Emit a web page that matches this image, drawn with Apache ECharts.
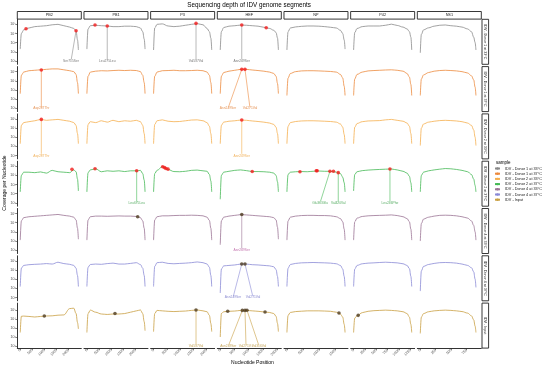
<!DOCTYPE html>
<html><head><meta charset="utf-8">
<script src="https://cdn.jsdelivr.net/npm/echarts@6/dist/echarts.min.js"></script>
<style>html,body{margin:0;padding:0;background:#fff}#c{width:550px;height:368px}</style>
</head><body><div id="c"></div>
<script>
// ---------------- DATA ----------------
const segments = ['PB2', 'PB1', 'P3', 'HEF', 'NP', 'P42', 'NS1'];
const segAxisLength = [2400, 2400, 2200, 2050, 1800, 1280, 940];
const xTicksPB2 = [0, 500, 1000, 1500, 2000];
const xTicksPB1 = [0, 500, 1000, 1500, 2000];
const xTicksP3 = [0, 500, 1000, 1500, 2000];
const xTicksHEF = [0, 500, 1000, 1500, 2000];
const xTicksNP = [0, 500, 1000, 1500];
const xTicksP42 = [0, 250, 500, 750, 1000, 1250];
const xTicksNS1 = [0, 250, 500, 750];
const yTicksLog = [1, 2, 3, 4, 5];

const samples = ['IDV - Donor 1 at 33°C', 'IDV - Donor 1 at 37°C', 'IDV - Donor 2 at 33°C',
  'IDV - Donor 2 at 37°C', 'IDV - Donor 4 at 33°C', 'IDV - Donor 4 at 37°C', 'IDV - Input'];

// nucleotide positions sampled along each segment
const posPB2 = [1, 48, 144, 360, 600, 840, 1080, 1320, 1560, 1800, 2040, 2208, 2304, 2364, 2400];
const posPB1 = [1, 48, 144, 360, 600, 840, 1080, 1320, 1560, 1800, 2040, 2208, 2304, 2364, 2400];
const posP3 = [1, 44, 132, 330, 550, 770, 990, 1210, 1430, 1650, 1870, 2024, 2112, 2167, 2200];
const posHEF = [1, 41, 123, 308, 513, 718, 923, 1128, 1333, 1538, 1743, 1886, 1968, 2019, 2050];
const posNP = [1, 36, 108, 270, 450, 630, 810, 990, 1170, 1350, 1530, 1656, 1728, 1773, 1800];
const posP42 = [1, 26, 77, 192, 320, 448, 576, 704, 832, 960, 1088, 1178, 1229, 1261, 1280];
const posNS1 = [1, 18, 54, 135, 225, 315, 405, 495, 585, 675, 765, 828, 864, 887, 900];

// log10 coverage per nucleotide, segment order PB2, PB1, P3, HEF, NP, P42, NS1
const covD1_33 = [
  [2.3, 4.0, 4.4, 4.6, 4.75, 4.8, 4.85, 4.95, 5.0, 4.85, 4.7, 4.55, 4.3, 3.3, 2.2],
  [2.3, 4.5, 4.85, 4.9, 4.85, 4.82, 4.75, 4.75, 4.8, 4.8, 4.75, 4.6, 4.2, 3.4, 2.3],
  [2.2, 4.6, 5.0, 5.05, 4.82, 4.75, 4.8, 4.9, 5.0, 5.08, 4.95, 4.55, 4.2, 3.5, 2.2],
  [2.2, 4.2, 4.65, 4.8, 4.85, 4.92, 4.9, 4.85, 4.8, 4.68, 4.55, 4.35, 4.1, 3.5, 2.2],
  [2.2, 4.2, 4.6, 4.72, 4.78, 4.82, 4.82, 4.8, 4.75, 4.68, 4.6, 4.35, 4.0, 3.3, 2.3],
  [2.2, 4.1, 4.55, 4.75, 4.82, 4.82, 4.82, 4.9, 5.02, 4.88, 4.7, 4.5, 4.2, 3.6, 2.2],
  [1.9, 3.9, 4.4, 4.62, 4.8, 4.9, 4.93, 4.85, 4.8, 4.7, 4.5, 4.2, 3.6, 3.0, 2.2]
];
const covD1_37 = [
  [2.6, 4.6, 4.95, 5.1, 5.15, 5.2, 5.25, 5.3, 5.3, 5.2, 5.1, 5.0, 4.7, 3.8, 2.6],
  [2.6, 4.5, 4.95, 5.05, 5.1, 5.08, 5.12, 5.15, 5.12, 5.15, 5.12, 5.0, 4.6, 3.8, 2.6],
  [2.6, 4.5, 4.95, 5.1, 5.12, 5.15, 5.1, 5.1, 5.12, 5.15, 5.1, 4.95, 4.6, 3.8, 2.6],
  [2.6, 4.5, 4.9, 5.05, 5.15, 5.25, 5.25, 5.18, 5.12, 5.05, 4.95, 4.8, 4.5, 3.7, 2.6],
  [2.4, 4.3, 4.8, 5.0, 5.08, 5.1, 5.1, 5.08, 5.05, 5.02, 4.95, 4.7, 4.3, 3.4, 2.4],
  [2.4, 4.2, 4.7, 4.95, 5.08, 5.12, 5.15, 5.18, 5.2, 5.15, 5.05, 4.8, 4.4, 3.6, 2.4],
  [2.4, 4.2, 4.65, 4.9, 5.05, 5.12, 5.15, 5.12, 5.08, 5.0, 4.85, 4.55, 4.1, 3.3, 2.4]
];
const covD2_33 = [
  [2.3, 4.3, 4.6, 4.7, 4.8, 4.95, 4.85, 4.9, 4.95, 4.85, 4.75, 4.6, 4.3, 3.4, 2.3],
  [2.3, 4.4, 4.7, 4.6, 4.8, 4.65, 4.85, 4.7, 4.8, 4.75, 4.85, 4.7, 4.3, 3.4, 2.3],
  [2.3, 4.4, 4.8, 4.9, 4.75, 4.7, 4.72, 4.8, 4.88, 4.9, 4.8, 4.6, 4.2, 3.4, 2.3],
  [2.3, 4.3, 4.65, 4.75, 4.8, 4.88, 4.85, 4.78, 4.72, 4.65, 4.55, 4.4, 4.1, 3.4, 2.3],
  [2.3, 4.2, 4.6, 4.72, 4.78, 4.8, 4.8, 4.78, 4.75, 4.72, 4.65, 4.45, 4.1, 3.3, 2.3],
  [2.3, 4.1, 4.5, 4.7, 4.78, 4.8, 4.82, 4.9, 4.95, 4.85, 4.75, 4.55, 4.2, 3.4, 2.3],
  [2.1, 4.0, 4.45, 4.65, 4.75, 4.82, 4.85, 4.82, 4.78, 4.7, 4.55, 4.3, 3.8, 3.0, 2.1]
];
const covD2_37 = [
  [2.2, 4.0, 4.35, 4.35, 4.3, 4.38, 4.25, 4.55, 4.4, 4.35, 4.3, 4.6, 4.4, 3.6, 2.3],
  [2.2, 4.3, 4.6, 4.72, 4.4, 4.5, 4.45, 4.5, 4.42, 4.5, 4.5, 4.55, 4.2, 3.5, 2.2],
  [2.2, 4.2, 4.55, 4.95, 4.65, 4.42, 4.4, 4.45, 4.55, 4.58, 4.5, 4.45, 4.1, 3.4, 2.2],
  [1.4, 4.0, 4.35, 4.45, 4.55, 4.6, 4.52, 4.42, 4.42, 4.4, 4.35, 4.25, 4.0, 3.3, 2.2],
  [2.2, 4.1, 4.35, 4.4, 4.42, 4.4, 4.45, 4.48, 4.45, 4.45, 4.35, 4.2, 3.8, 3.2, 2.2],
  [2.3, 4.1, 4.4, 4.52, 4.58, 4.62, 4.65, 4.68, 4.7, 4.6, 4.45, 4.25, 3.9, 3.2, 2.2],
  [2.2, 4.0, 4.35, 4.5, 4.6, 4.68, 4.75, 4.72, 4.65, 4.55, 4.4, 4.1, 3.6, 2.9, 2.2]
];
const covD4_33 = [
  [2.1, 4.2, 4.55, 4.65, 4.7, 4.75, 4.8, 4.85, 4.9, 4.8, 4.72, 4.6, 4.3, 3.4, 2.2],
  [2.1, 4.3, 4.65, 4.72, 4.72, 4.7, 4.72, 4.74, 4.72, 4.72, 4.68, 4.55, 4.2, 3.4, 2.1],
  [2.1, 4.3, 4.65, 4.75, 4.75, 4.78, 4.8, 4.8, 4.82, 4.8, 4.75, 4.6, 4.25, 3.4, 2.1],
  [1.6, 4.2, 4.6, 4.72, 4.8, 4.88, 4.85, 4.8, 4.75, 4.7, 4.65, 4.55, 4.3, 3.5, 2.2],
  [2.1, 4.2, 4.6, 4.72, 4.78, 4.8, 4.8, 4.78, 4.78, 4.75, 4.65, 4.45, 4.1, 3.3, 2.1],
  [2.1, 4.1, 4.5, 4.68, 4.75, 4.78, 4.8, 4.82, 4.85, 4.78, 4.65, 4.45, 4.1, 3.3, 2.1],
  [2.0, 3.9, 4.4, 4.6, 4.72, 4.8, 4.82, 4.8, 4.75, 4.65, 4.5, 4.2, 3.7, 3.0, 2.1]
];
const covD4_37 = [
  [2.2, 4.2, 4.5, 4.58, 4.62, 4.65, 4.7, 4.65, 4.85, 4.7, 4.62, 4.5, 4.2, 3.4, 2.2],
  [2.2, 4.3, 4.6, 4.65, 4.62, 4.7, 4.75, 4.65, 4.65, 4.72, 4.8, 4.6, 4.2, 3.4, 2.2],
  [2.2, 4.4, 4.8, 4.85, 4.72, 4.68, 4.72, 4.75, 4.8, 4.88, 4.8, 4.65, 4.3, 3.4, 2.2],
  [1.5, 4.1, 4.45, 4.5, 4.55, 4.65, 4.65, 4.58, 4.55, 4.5, 4.45, 4.35, 4.05, 3.3, 2.2],
  [2.2, 4.2, 4.6, 4.72, 4.78, 4.8, 4.82, 4.8, 4.78, 4.75, 4.68, 4.5, 4.1, 3.3, 2.2],
  [2.2, 4.1, 4.5, 4.68, 4.75, 4.78, 4.82, 4.85, 4.82, 4.78, 4.68, 4.5, 4.15, 3.3, 2.2],
  [1.7, 3.9, 4.4, 4.6, 4.72, 4.8, 4.82, 4.8, 4.75, 4.65, 4.5, 4.25, 3.8, 3.0, 2.1]
];
const covInput = [
  [2.5, 4.3, 4.32, 4.28, 4.22, 4.28, 4.33, 4.35, 4.42, 4.45, 5.15, 5.2, 4.6, 3.6, 2.9],
  [2.5, 4.6, 4.98, 4.75, 4.55, 4.5, 4.55, 4.55, 4.6, 4.75, 4.9, 5.0, 4.6, 3.7, 2.7],
  [2.6, 4.6, 4.95, 4.9, 4.85, 4.82, 4.85, 4.88, 4.95, 5.0, 4.9, 4.8, 4.4, 3.5, 2.6],
  [2.0, 4.6, 4.8, 4.85, 4.88, 4.95, 4.95, 4.9, 4.85, 4.78, 4.72, 4.6, 4.3, 3.5, 2.6],
  [2.5, 4.4, 4.72, 4.82, 4.86, 4.9, 4.9, 4.9, 4.88, 4.85, 4.75, 4.55, 4.2, 3.4, 2.5],
  [2.5, 4.1, 4.35, 4.7, 4.85, 4.92, 4.95, 4.98, 4.95, 4.9, 4.8, 4.6, 4.2, 3.4, 2.5],
  [2.4, 4.2, 4.6, 4.8, 4.9, 4.95, 4.98, 4.95, 4.9, 4.82, 4.65, 4.35, 3.9, 3.2, 2.5]
];

// variant sites: [segment, position, log10 coverage]
const snvD1_33 = [['PB2', 240, 4.52], ['PB2', 2304, 4.3], ['PB1', 336, 4.93], ['PB1', 840, 4.82],
  ['P3', 1606, 5.1], ['HEF', 759, 4.92], ['HEF', 1620, 4.63]];
const snvD1_37 = [['PB2', 871, 5.18], ['HEF', 759, 5.25], ['HEF', 873, 5.25]];
const snvD2_33 = [['PB2', 871, 4.95], ['HEF', 759, 4.88]];
const snvD2_37 = [['PB2', 2136, 4.66], ['PB1', 336, 4.73], ['PB1', 2054, 4.5],
  ['P3', 345, 4.95], ['P3', 414, 4.85], ['P3', 471, 4.75], ['P3', 548, 4.68], ['HEF', 1128, 4.42],
  ['NP', 405, 4.4], ['NP', 909, 4.5], ['NP', 936, 4.5], ['NP', 1332, 4.45], ['NP', 1440, 4.45], ['NP', 1589, 4.3],
  ['P42', 801, 4.7]];
const snvD4_33 = [['PB1', 2095, 4.65], ['HEF', 759, 4.9]];
const snvD4_37 = [['HEF', 759, 4.65], ['HEF', 873, 4.65]];
const snvInput = [['PB2', 994, 4.33], ['PB1', 1159, 4.6], ['P3', 1606, 5.0],
  ['HEF', 264, 4.85], ['HEF', 779, 4.95], ['HEF', 873, 4.95], ['HEF', 943, 4.97], ['HEF', 1579, 4.77],
  ['NP', 1611, 4.66], ['P42', 102, 4.4]];

// labelled variants: [segment, site position, site log10 coverage, label position, text]
const annD1_33 = [['PB2', 2304, 4.3, 2095, 'Ser715Ser'], ['PB1', 840, 4.82, 840, 'Leu275Leu'],
  ['P3', 1606, 5.1, 1606, 'Val537Val'], ['HEF', 759, 4.92, 759, 'Asn249Ser']];
const annD1_37 = [['PB2', 871, 5.18, 871, 'Asp287Thr'], ['HEF', 759, 5.25, 275, 'Asn249Ser'],
  ['HEF', 873, 5.25, 1050, 'Val271Val']];
const annD2_33 = [['PB2', 871, 4.95, 871, 'Asp287Thr'], ['HEF', 759, 4.88, 759, 'Asn249Ser']];
const annD2_37 = [['PB1', 2054, 4.5, 2054, 'Leu675Leu'], ['NP', 1332, 4.45, 1025, 'Glu363Glu'],
  ['NP', 1589, 4.3, 1589, 'Val420Val'], ['P42', 801, 4.7, 801, 'Leu246Phe']];
const annD4_33 = [['HEF', 759, 4.9, 759, 'Asn249Ser']];
const annD4_37 = [['HEF', 759, 4.65, 451, 'Asn249Ser'], ['HEF', 873, 4.65, 1158, 'Val271Val']];
const annInput = [['P3', 1606, 5.0, 1606, 'Val537Val'], ['HEF', 779, 4.95, 285, 'Asn249Ser'],
  ['HEF', 873, 4.95, 909, 'Val271Val'], ['HEF', 943, 4.97, 1367, 'Val316Val']];

// ---------------- STYLE / LAYOUT ----------------
const positions = [posPB2, posPB1, posP3, posHEF, posNP, posP42, posNS1];
const xTicks = [xTicksPB2, xTicksPB1, xTicksP3, xTicksHEF, xTicksNP, xTicksP42, xTicksNS1];
const coverage = [covD1_33, covD1_37, covD2_33, covD2_37, covD4_33, covD4_37, covInput];
const snvs = [snvD1_33, snvD1_37, snvD2_33, snvD2_37, snvD4_33, snvD4_37, snvInput];
const anns = [annD1_33, annD1_37, annD2_33, annD2_37, annD4_33, annD4_37, annInput];
const colors = ['#8a8a8a', '#ec8a3e', '#f5ae4e', '#45b955', '#9b7394', '#8a8ad6', '#c9a043'];
const labelColors = ['#555555', '#e0782a', '#ee9f33', '#2f9a40', '#b44f9a', '#6b6bc4', '#b88d2c'];
const pointColors = ['#f21b1b', '#f21b1b', '#f21b1b', '#f21b1b', '#4d3b1f', '#4d3b1f', '#4d3b1f'];

const FONT = '"Liberation Sans", Arial, sans-serif';
const panelX0 = 17.3, pitchX = 66.67, panelW = 64, panelH = 45;
const rowTops = [19.3, 66.6, 113.9, 161.2, 208.5, 255.8, 303.1];
const yMin = [0.64, 0.64, 0.64, 0.64, 0.64, 0.64, 0.77];
const yMax = [5.55, 5.55, 5.55, 5.55, 5.55, 5.55, 5.76];
const sup = { 1: '¹', 2: '²', 3: '³', 4: '⁴', 5: '⁵' };
const axisCol = '#333333';

const chart = echarts.init(document.getElementById('c'), null, { renderer: 'canvas', width: 550, height: 368 });
const grids = [], xAxes = [], yAxes = [], series = [], graphics = [];

for (let r = 0; r < 7; r++) {
  for (let c = 0; c < 7; c++) {
    const idx = r * 7 + c;
    const L = segAxisLength[c];
    grids.push({ left: panelX0 + c * pitchX, top: rowTops[r], width: panelW, height: panelH });
    const bottom = r === 6, left = c === 0;
    xAxes.push({
      gridIndex: idx, type: 'value', min: -0.05 * L, max: 1.05 * L,
      splitLine: { show: false },
      axisLine: { show: bottom, onZero: false, lineStyle: { color: axisCol, width: 1 } },
      axisTick: { show: bottom, length: 2, customValues: xTicks[c], lineStyle: { color: axisCol, width: 0.6 } },
      axisLabel: { show: bottom, customValues: xTicks[c], rotate: 45, fontSize: 3.6, margin: 1.5,
        color: '#4d4d4d', fontFamily: FONT, formatter: v => String(v) }
    });
    yAxes.push({
      gridIndex: idx, type: 'value', min: yMin[r], max: yMax[r],
      splitLine: { show: false },
      axisLine: { show: left, onZero: false, lineStyle: { color: axisCol, width: 1 } },
      axisTick: { show: left, length: 2, customValues: yTicksLog, lineStyle: { color: axisCol, width: 0.6 } },
      axisLabel: { show: left, customValues: yTicksLog, fontSize: 3.6, margin: 1.5, color: '#4d4d4d',
        fontFamily: FONT, formatter: v => '10' + sup[v] }
    });
    // coverage curve
    series.push({
      type: 'line', name: samples[r], xAxisIndex: idx, yAxisIndex: idx,
      data: positions[c].map((p, i) => [p, coverage[r][c][i]]),
      smooth: 0.35, smoothMonotone: 'x', symbol: 'circle', symbolSize: 2, showSymbol: false,
      lineStyle: { color: colors[r], width: 0.8 }, itemStyle: { color: colors[r] },
      silent: true, animation: false, z: 2
    });
    // annotation leader lines and labels
    const a = anns[r].filter(d => d[0] === segments[c]);
    a.forEach(d => {
      series.push({
        type: 'line', xAxisIndex: idx, yAxisIndex: idx, data: [[d[1], d[2]], [d[3], 1.0]],
        symbol: 'none', lineStyle: { color: colors[r], width: 0.6 }, silent: true, animation: false, z: 1
      });
    });
    if (a.length) {
      series.push({
        type: 'scatter', xAxisIndex: idx, yAxisIndex: idx, symbolSize: 1,
        itemStyle: { color: 'rgba(0,0,0,0)' },
        data: a.map(d => ({ value: [d[3], 1.0], name: d[4] })),
        label: { show: true, position: 'inside', formatter: '{b}', fontSize: 3.3, color: labelColors[r],
          fontFamily: FONT, backgroundColor: 'rgba(255,255,255,0.85)', padding: [0.4, 0.8] },
        silent: true, animation: false, z: 6
      });
    }
    const s = snvs[r].filter(d => d[0] === segments[c]);
    if (s.length) {
      series.push({
        type: 'scatter', xAxisIndex: idx, yAxisIndex: idx, symbolSize: 3.6,
        itemStyle: { color: pointColors[r] }, data: s.map(d => [d[1], d[2]]),
        silent: true, animation: false, z: 5
      });
    }
  }
}

// strip headers (columns)
segments.forEach((seg, c) => {
  const x = panelX0 + c * pitchX;
  graphics.push({ type: 'rect', shape: { x: x, y: 11.5, width: panelW, height: 7.6 },
    style: { fill: '#ffffff', stroke: '#222', lineWidth: 0.9 }, silent: true });
  graphics.push({ type: 'text', x: x + panelW / 2, y: 15.3,
    style: { text: seg, fill: '#1a1a1a', font: '3.8px ' + FONT, align: 'center', verticalAlign: 'middle' }, silent: true });
});
// strip labels (rows)
samples.forEach((smp, r) => {
  graphics.push({ type: 'rect', shape: { x: 482, y: rowTops[r], width: 6.6, height: panelH },
    style: { fill: '#ffffff', stroke: '#222', lineWidth: 0.9 }, silent: true });
  graphics.push({ type: 'text', x: 485.3, y: rowTops[r] + panelH / 2, rotation: -Math.PI / 2,
    style: { text: smp, fill: '#1a1a1a', font: '3.6px ' + FONT, align: 'center', verticalAlign: 'middle' }, silent: true });
});
graphics.push({ type: 'text', x: 249, y: 5.5,
  style: { text: 'Sequencing depth of IDV genome segments', fill: '#000', font: '6.3px ' + FONT,
    align: 'center', verticalAlign: 'middle' }, silent: true });
graphics.push({ type: 'text', x: 252.5, y: 362.5,
  style: { text: 'Nucleotide Position', fill: '#000', font: '5px ' + FONT, align: 'center', verticalAlign: 'middle' }, silent: true });
graphics.push({ type: 'text', x: 5, y: 183, rotation: Math.PI / 2,
  style: { text: 'Coverage per Nucleotide', fill: '#000', font: '5px ' + FONT, align: 'center', verticalAlign: 'middle' }, silent: true });
graphics.push({ type: 'text', x: 496, y: 162.5,
  style: { text: 'sample', fill: '#000', font: '4.5px ' + FONT, align: 'left', verticalAlign: 'middle' }, silent: true });

chart.setOption({
  animation: false,
  backgroundColor: '#ffffff',
  grid: grids, xAxis: xAxes, yAxis: yAxes, series: series,
  legend: {
    data: samples, orient: 'vertical', left: 494, top: 166.5, padding: 0,
    itemWidth: 5, itemHeight: 3, itemGap: 1.2,
    textStyle: { fontSize: 3.8, color: '#1a1a1a', fontFamily: FONT }
  },
  graphic: graphics
});
</script></body></html>
